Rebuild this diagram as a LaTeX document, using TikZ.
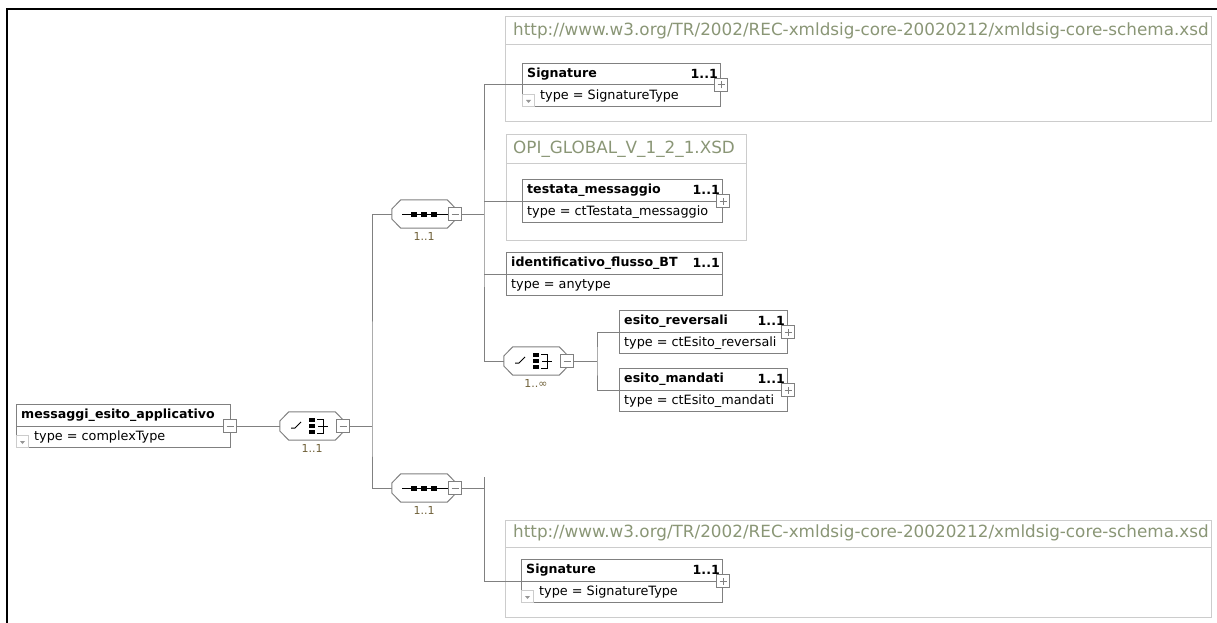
\documentclass[tikz,border=0pt]{standalone}
\usepackage{fontspec}
\setmainfont{DejaVu Sans}
\usetikzlibrary{positioning,calc}

\definecolor{boxgray}{RGB}{128,128,128}
\definecolor{grpgray}{RGB}{204,204,204}
\definecolor{nsgreen}{RGB}{138,150,118}
\definecolor{occbrown}{RGB}{110,95,55}
\definecolor{icongray}{RGB}{150,150,150}

\tikzset{elem/.style={draw=boxgray, fill=white, line width=1pt, anchor=north west, inner sep=0, minimum height=43pt}}
\tikzset{grp/.style={draw=grpgray, line width=1pt, anchor=north west, inner sep=0}}
\tikzset{grpline/.style={draw=grpgray, line width=1pt}}
\tikzset{conn/.style={draw=boxgray, line width=1pt}}
\tikzset{etitle/.style={anchor=west, inner sep=0, font=\bfseries\fontsize{12.6}{14}\selectfont}}
\tikzset{eocc/.style={anchor=east, inner sep=0, font=\bfseries\fontsize{12.6}{14}\selectfont}}
\tikzset{etype/.style={anchor=west, inner sep=0, font=\fontsize{12.8}{14}\selectfont}}
\tikzset{nslabel/.style={anchor=west, inner sep=0, text=nsgreen, font=\fontsize{16.8}{19}\selectfont}}
\tikzset{tog/.style={draw=boxgray, fill=white, line width=1pt, minimum size=13pt, inner sep=0}}
\tikzset{compo/.style={minimum width=64pt, minimum height=28pt, inner sep=0}}
\tikzset{compline/.style={draw=boxgray, line width=1pt}}
\tikzset{compocc/.style={inner sep=0, text=occbrown, font=\fontsize{11}{12}\selectfont}}
\tikzset{sym/.style={draw=black, line width=1pt}}

% element box: name, position, width, title, type, type indent, occurrence
\newcommand\element[7]{
		\node[elem, minimum width=#3] (#1) at (#2) {};
		\draw[conn] (#1.west) -- (#1.east);
		\node[etitle] at ([xshift=5pt,yshift=-11pt]#1.north west) {#4};
		\node[eocc] at ([xshift=-3pt,yshift=-11pt]#1.north east) {#7};
		\node[etype] at ([xshift=#6,yshift=11pt]#1.south west) {#5};
	}
\newcommand\dropicon[1]{
		\node[draw=grpgray, line width=1pt, minimum size=12pt, inner sep=0, anchor=south west] (#1-drop) at (#1.south west) {};
		\fill[icongray] ([xshift=-2.5pt,yshift=0.5pt]#1-drop.center) -- ([xshift=2.5pt,yshift=0.5pt]#1-drop.center) -- ([yshift=-2.5pt]#1-drop.center) -- cycle;
	}
\newcommand\minustog[2]{
		\node[tog] (#1) at (#2) {};
		\draw[conn] ([xshift=-3.5pt]#1.center) -- ([xshift=3.5pt]#1.center);
	}
\newcommand\plustog[2]{
		\minustog{#1}{#2}
		\draw[conn] ([yshift=-3.5pt]#1.center) -- ([yshift=3.5pt]#1.center);
	}
% compositor: name, position, occurrence
\newcommand\compo[3]{
		\node[compo] (#1) at (#2) {};
		\draw[compline] ([yshift=5pt]#1.west) -- ([xshift=9pt]#1.north west) -- ([xshift=-9pt]#1.north east) -- ([yshift=5pt]#1.east)
			-- ([yshift=-5pt]#1.east) -- ([xshift=-9pt]#1.south east) -- ([xshift=9pt]#1.south west) -- ([yshift=-5pt]#1.west) -- cycle;
		\node[compocc, below=4pt of #1] (#1-occ) {#3};
		\minustog{#1-tog}{[xshift=-1pt]#1.east}
	}
\newcommand\seqsym[1]{
		\begin{scope}[shift={(#1.center)}]
			\draw[sym] (-22,0) -- (24,0);
			\fill (-13,-2.5) rectangle (-7,2.5);
			\fill (-3,-2.5) rectangle (3,2.5);
			\fill (7,-2.5) rectangle (13,2.5);
		\end{scope}
	}
\newcommand\choicesym[1]{
		\begin{scope}[shift={(#1.center)}]
			\draw[sym] (-21,2) -- (-17,2) -- (-11,-4);
			\fill (-3,-8) rectangle (3,-4);
			\fill (-3,-2) rectangle (3,2);
			\fill (-3,4) rectangle (3,8);
			\draw[sym] (5,-7) -- (11,-7) -- (11,7) -- (5,7);
			\draw[sym] (6,0) -- (16,0);
		\end{scope}
	}

\begin{document}
\begin{tikzpicture}[x=1pt, y=-1pt]
	\useasboundingbox (0,0) rectangle (1217,623);
	\draw[line width=1.5pt] (7,623) -- (7,9) -- (1217,9);

	% namespace groups
	\node[grp, minimum width=706pt, minimum height=105pt] (ns1) at (505,16) {};
	\draw[grpline] ([yshift=-29pt]ns1.north west) -- ([yshift=-29pt]ns1.north east);
	\node[nslabel] at ([xshift=8pt,yshift=-15pt]ns1.north west) {http://www.w3.org/TR/2002/REC-xmldsig-core-20020212/xmldsig-core-schema.xsd};
	\node[grp, minimum width=240pt, minimum height=106pt] (ns2) at (506,134) {};
	\draw[grpline] ([yshift=-29pt]ns2.north west) -- ([yshift=-29pt]ns2.north east);
	\node[nslabel] at ([xshift=7pt,yshift=-15pt]ns2.north west) {OPI\_GLOBAL\_V\_1\_2\_1.XSD};
	\node[grp, minimum width=706pt, minimum height=97pt] (ns3) at (505,520) {};
	\draw[grpline] ([yshift=-27pt]ns3.north west) -- ([yshift=-27pt]ns3.north east);
	\node[nslabel] at ([xshift=8pt,yshift=-13pt]ns3.north west) {http://www.w3.org/TR/2002/REC-xmldsig-core-20020212/xmldsig-core-schema.xsd};

	% elements
	\element{root}{16,404}{214pt}{messaggi\_esito\_applicativo}{type = complexType}{18pt}{}
	\dropicon{root}
	\minustog{root-tog}{[xshift=-1pt]root.east}
	\element{sig1}{522,63}{198pt}{Signature}{type = SignatureType}{18pt}{1..1}
	\dropicon{sig1}
	\plustog{sig1-tog}{sig1.east}
	\element{testa}{522,179}{200pt}{testata\_messaggio}{type = ctTestata\_messaggio}{5pt}{1..1}
	\plustog{testa-tog}{testa.east}
	\element{ident}{506,252}{216pt}{identificativo\_flusso\_BT}{type = anytype}{5pt}{1..1}
	\element{rev}{619,310}{168pt}{esito\_reversali}{type = ctEsito\_reversali}{5pt}{1..1}
	\plustog{rev-tog}{rev.east}
	\element{man}{619,368}{168pt}{esito\_mandati}{type = ctEsito\_mandati}{5pt}{1..1}
	\plustog{man-tog}{man.east}
	\element{sig2}{521,559}{201pt}{Signature}{type = SignatureType}{18pt}{1..1}
	\dropicon{sig2}
	\plustog{sig2-tog}{sig2.east}

	% compositors
	\compo{ch1}{312,426}{1..1}
	\choicesym{ch1}
	\compo{seq1}{424,214}{1..1}
	\seqsym{seq1}
	\compo{seq2}{424,488}{1..1}
	\seqsym{seq2}
	\compo{inch}{536,361}{1..∞}
	\choicesym{inch}

	% connectors
	\coordinate (bus1) at (372,426);
	\coordinate (bus2) at (484,214);
	\coordinate (bus3) at (484,477);
	\coordinate (bus4) at (597,361);
	\draw[conn] (root-tog.east) -- (ch1.west);
	\draw[conn] (ch1-tog.east) -- (bus1);
	\draw[conn] (seq1.west) -| (bus1) |- (seq2.west);
	\draw[conn] (seq1-tog.east) -- (bus2);
	\draw[conn] (sig1.west) -| (bus2) |- (inch.west);
	\draw[conn] (bus2 |- testa.west) -- (testa.west);
	\draw[conn] (bus2 |- ident.west) -- (ident.west);
	\draw[conn] (seq2-tog.east) -- (bus3 |- seq2-tog.east);
	\draw[conn] (bus3) |- (sig2.west);
	\draw[conn] (inch-tog.east) -- (bus4);
	\draw[conn] (rev.west) -| (bus4) |- (man.west);
\end{tikzpicture}
\end{document}
